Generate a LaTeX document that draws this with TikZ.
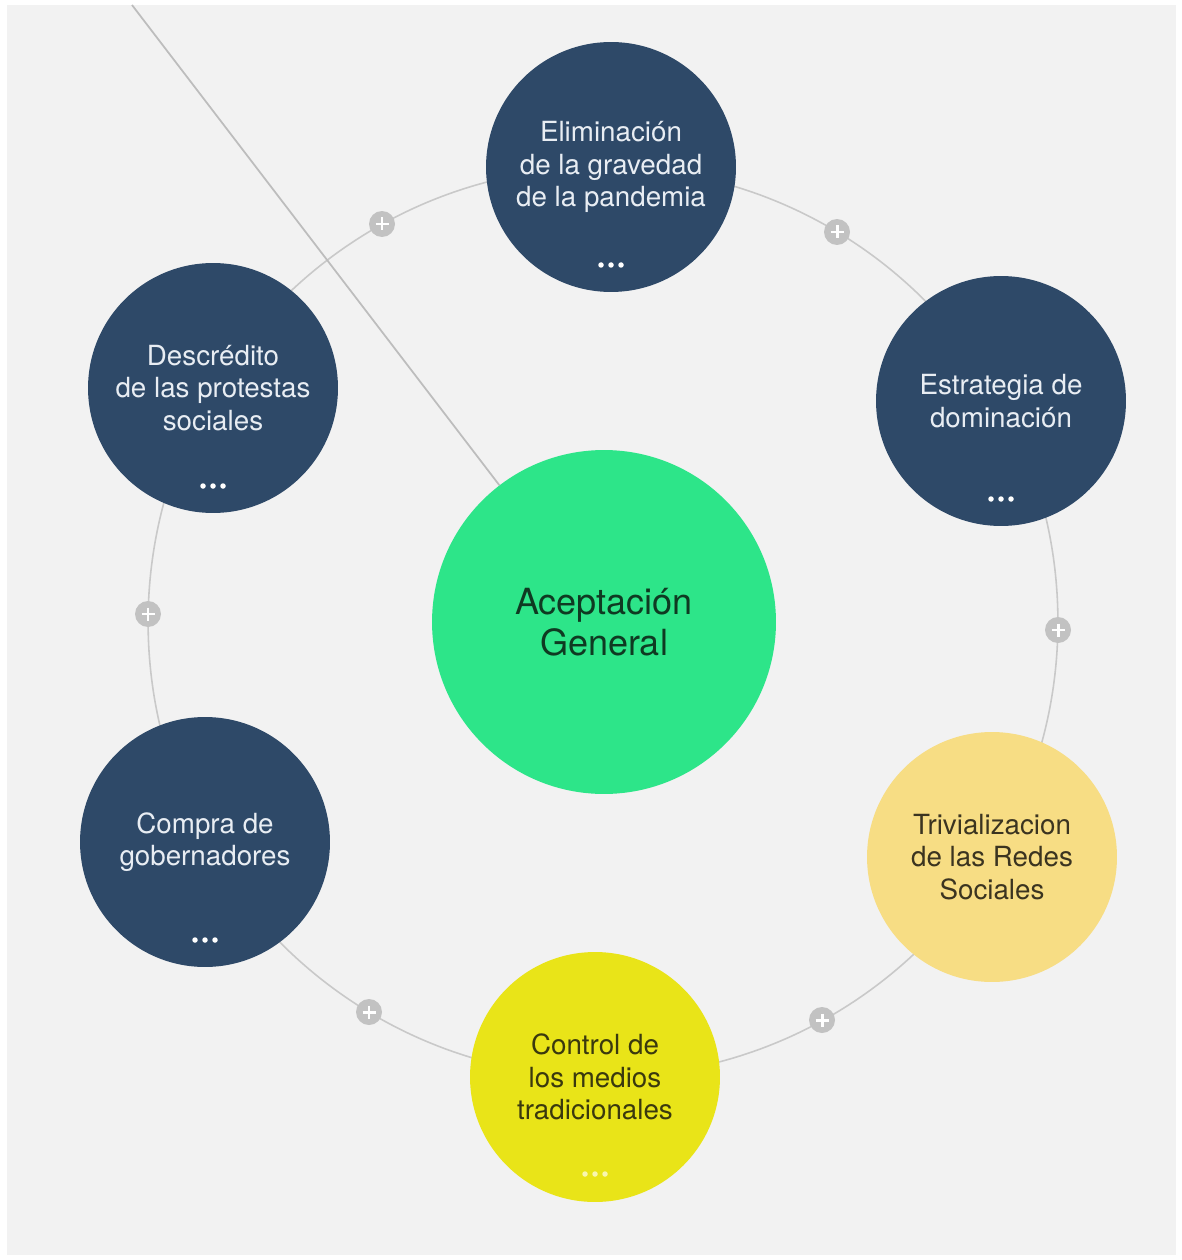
\documentclass[tikz,border=0pt]{standalone}
\usepackage{fontspec}
\setmainfont{TeX Gyre Heros}
\usetikzlibrary{calc}
\definecolor{bg}{HTML}{F2F2F2}
\definecolor{navy}{RGB}{46,73,104}
\definecolor{navytext}{HTML}{E8EDF3}
\definecolor{mint}{RGB}{45,229,137}
\definecolor{minttext}{HTML}{0F3A22}
\definecolor{paleyellow}{HTML}{F7DD84}
\definecolor{paletext}{HTML}{3B3420}
\definecolor{lemon}{HTML}{E9E418}
\definecolor{lemontext}{HTML}{3A390E}
\definecolor{lemondots}{HTML}{F8F6B0}
\definecolor{ringgray}{HTML}{C9C9C9}
\definecolor{plusgray}{HTML}{C2C2C2}
\definecolor{spokegray}{HTML}{BDBDBD}
\begin{document}
\begin{tikzpicture}[x=0.02cm,y=-0.02cm,
  bubble/.style={circle, inner sep=0pt, minimum size=5cm, align=center,
    font=\fontsize{15.8}{18.6}\selectfont},
  navybubble/.style={bubble, fill=navy, text=navytext},
  hubbubble/.style={circle, inner sep=0pt, minimum size=6.88cm, align=center,
    fill=mint, text=minttext, font=\fontsize{20.5}{23.5}\selectfont},
  plusicon/.style={circle, fill=plusgray, minimum size=0.52cm, inner sep=0pt},
  ringline/.style={draw=ringgray, line width=0.9pt},
  spokeline/.style={draw=spokegray, line width=1pt},
  plusbar/.style={draw=white, line width=1.7pt},
]
\useasboundingbox (0,0) rectangle (1181,1260);
\fill[white] (0,0) rectangle (1181,1260);
\fill[bg] (7,5) rectangle (1176,1255);

% ring
\coordinate (hub) at (603,622);
\draw[ringline] (hub) circle (9.1cm);

% plus icons on the ring
\node[plusicon] (p1) at (382,224) {};
\node[plusicon] (p2) at (837,232) {};
\node[plusicon] (p3) at (1058,630) {};
\node[plusicon] (p4) at (822,1020) {};
\node[plusicon] (p5) at (369,1012) {};
\node[plusicon] (p6) at (148,614) {};
\foreach \p in {p1,p2,p3,p4,p5,p6}{
  \draw[plusbar] ($(\p)+(-6.5,0)$) -- ($(\p)+(6.5,0)$);
  \draw[plusbar] ($(\p)+(0,-6.5)$) -- ($(\p)+(0,6.5)$);
}

% bubbles
\node[hubbubble] (acept) at (604,622) {Aceptación\\General};
\node[navybubble] (elim) at (611,167) {Eliminación\\de la gravedad\\de la pandemia};
\node[navybubble] (estr) at (1001,401) {Estrategia de\\dominación};
\node[bubble, fill=paleyellow, text=paletext] (triv) at (992,857) {Trivializacion\\de las Redes\\Sociales};
\node[bubble, fill=lemon, text=lemontext] (ctrl) at (595,1077) {Control de\\los medios\\tradicionales};
\node[navybubble] (comp) at (205,842) {Compra de\\gobernadores};
\node[navybubble] (desc) at (213,388) {Descrédito\\de las protestas\\sociales};

% "more" dots
\foreach \n in {elim,estr,comp,desc}{
  \foreach \dx in {-10,0,10}{
    \fill[white] ($(\n)+(\dx,98)$) circle (0.055cm);
  }
}
\foreach \dx in {-10,0,10}{
  \fill[lemondots] ($(ctrl)+(\dx,97)$) circle (0.055cm);
}

% spoke from hub to the top-left
\coordinate (spokeend) at (132,5);
\draw[spokeline] (acept) -- (spokeend);
\end{tikzpicture}
\end{document}
